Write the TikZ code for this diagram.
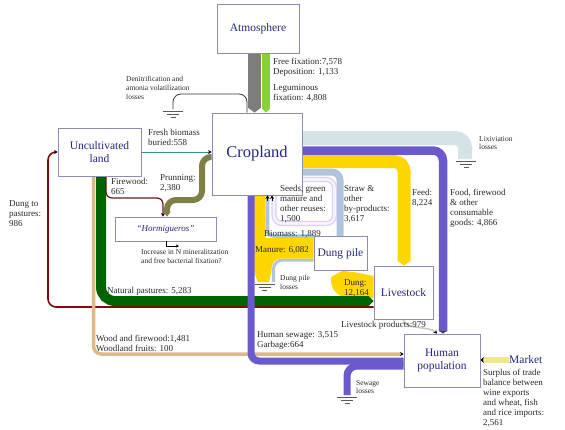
\documentclass[tikz,border=0pt]{standalone}
\usepackage{fontspec}
\setmainfont{Liberation Serif}
\usetikzlibrary{arrows.meta,backgrounds}
\definecolor{nodeblue}{RGB}{38,38,128}
\definecolor{boxcol}{RGB}{140,140,180}
\definecolor{txtcol}{RGB}{40,40,40}
\definecolor{atmgray}{RGB}{125,125,125}
\definecolor{leggreen}{RGB}{132,210,52}
\definecolor{lixcol}{RGB}{214,227,230}
\definecolor{purp}{RGB}{106,90,205}
\definecolor{gold}{RGB}{255,214,0}
\definecolor{strawcol}{RGB}{176,196,222}
\definecolor{lavout}{RGB}{222,205,246}
\definecolor{lavin}{RGB}{246,242,255}
\definecolor{dkgreen}{RGB}{0,100,0}
\definecolor{dkred}{RGB}{128,10,10}
\definecolor{fwcol}{RGB}{100,25,25}
\definecolor{olivecol}{RGB}{128,128,70}
\definecolor{tealcol}{RGB}{50,145,145}
\definecolor{tancol}{RGB}{222,184,135}
\definecolor{khakicol}{RGB}{240,230,140}
\definecolor{lpgray}{RGB}{200,200,200}
\begin{document}
\begin{tikzpicture}[x=1pt,y=-1pt,
  box/.style={draw=boxcol, line width=0.8pt, fill=white, text=nodeblue,
    font=\fontsize{11.5}{12.5}\selectfont, align=center, inner sep=0pt},
  lbl/.style={anchor=north west, inner sep=0pt, align=left, text=txtcol,
    font=\fontsize{9}{10}\selectfont},
  slbl/.style={lbl, font=\fontsize{7.5}{8.8}\selectfont},
  band/.style={rounded corners=10pt},
  thinarrow/.style={-{Stealth[length=3.5pt,width=4pt,color=black]}},
  gnd/.pic={\draw[line width=0.7pt, black!65] (-10,0)--(10,0) (-6,3)--(6,3) (-2.5,6)--(2.5,6);}
]
\useasboundingbox (0,0) rectangle (565,429);

% ---- nodes ----
\node[box, minimum width=82pt, minimum height=49pt] (atm) at (258,28.5) {Atmosphere};
\node[box, minimum width=90pt, minimum height=82pt, font=\fontsize{16.5}{19}\selectfont] (crop) at (257,154) {Cropland};
\node[box, minimum width=83pt, minimum height=48pt] (unc) at (99.5,152) {Uncultivated\\land};
\node[box, minimum width=101pt, minimum height=24pt, font=\fontsize{9}{11}\selectfont\itshape] (horm) at (165.5,229) {``Hormigueros''};
\node[box, minimum width=53pt, minimum height=34pt] (dung) at (340.5,253.5) {Dung pile};
\node[box, minimum width=59pt, minimum height=53pt] (live) at (403.5,292.5) {Livestock};
\node[box, minimum width=76pt, minimum height=53pt] (hum) at (442,360.5) {Human\\population};
\node[text=nodeblue, font=\fontsize{11.5}{13}\selectfont, anchor=west, inner sep=0pt] (mkt) at (509,360) {Market};

% ---- flows ----
\begin{scope}[on background layer]
  % atmosphere -> cropland
  \draw[line width=13pt, atmgray, -{Triangle[length=5pt,width=13pt]}] (atm.south -| 254.5,0) -- (crop.north -| 254.5,0);
  \draw[line width=8pt, leggreen, -{Triangle[length=4pt,width=8pt]}] (atm.south -| 266,0) -- (crop.north -| 266,0);
  % denitrification
  \draw[line width=0.8pt, black!80, rounded corners=8pt] (crop.north -| 247,0) -- (247,94) -- (173,94) -- (173,109);
  % lixiviation
  \draw[band, line width=14pt, lixcol] (crop.east |- 0,138) -- (465,138) -- (465,159);
  % food to human population
  \draw[band, line width=8.5pt, purp, -{Stealth[length=3pt,width=7pt,color=black!80]}] (crop.east |- 0,150.5) -- (443,150.5) -- (hum.north -| 443,0);
  % feed
  \draw[band, line width=13pt, gold, -{Triangle[length=5pt,width=13pt]}] (crop.east |- 0,161.5) -- (404,161.5) -- (live.north -| 404,0);
  % straw
  \draw[rounded corners=8pt, line width=7pt, strawcol] (crop.east |- 0,172) -- (340,172) -- (dung.north -| 340,0);
  % seeds loop
  \draw[rounded corners=8pt, draw=lavout, line width=1.3pt, double=lavin, double distance=2.6pt] (crop.east |- 0,179.5) -- (334.5,179.5) -- (334.5,223.5) -- (274,223.5) -- (crop.south -| 274,0);
  % biomass
  \draw[rounded corners=6pt, line width=3.5pt, strawcol] (dung.west |- 0,236) -- (267.5,236) -- (crop.south -| 267.5,0);
  % dung pile losses (blue part)
  \draw[rounded corners=9pt, line width=3pt, strawcol] (dung.west |- 0,260) -- (273.5,260) -- (273.5,282);
  % manure and dung pile losses (yellow)
  \fill[gold] (crop.south -| 254,0) -- (crop.south -| 265.5,0) -- (265.5,238) -- (dung.west |- 0,238)
     -- (dung.west |- 0,258.5) -- (283,258.5) .. controls (274,258.5) and (271.5,263) .. (271.5,271)
     -- (269,282) -- (258,282) .. controls (255,276) and (254,272) .. (254,266) -- cycle;
  % dung from livestock to dung pile
  \fill[gold] (live.west |- 0,276) -- (354,272) -- (dung.south -| 342,0) -- (331,277)
     .. controls (330,290) and (338,298) .. (352,298) -- (live.west |- 0,298) -- cycle;
  % dung to pastures
  \draw[rounded corners=8pt, line width=1.6pt, dkred, thinarrow] (live.west |- 0,307) -- (48,307) -- (48,152) -- (unc.west);
  % wood and firewood
  \draw[rounded corners=8pt, line width=3.5pt, tancol, thinarrow] (unc.south -| 93.5,0) -- (93.5,354) -- (hum.west |- 0,354);
  % natural pastures
  \draw[rounded corners=14pt, line width=10pt, dkgreen, -{Triangle[length=5pt,width=10pt]}] (unc.south -| 101,0) -- (101,301) -- (live.west |- 0,301);
  % human sewage and garbage
  \draw[rounded corners=8pt, line width=7pt, purp] (hum.west |- 0,361) -- (251,361) -- (crop.south -| 251,0);
  % sewage losses
  \draw[rounded corners=10pt, line width=7pt, purp] (hum.west |- 0,366) -- (347,366) -- (347,395);
  % livestock products
  \draw[line width=1.6pt, lpgray, thinarrow] (live.south -| 403,0) .. controls (405,330) and (430,326) .. (hum.north -| 437,0);
  % market
  \draw[line width=6pt, khakicol, -{Stealth[length=3.5pt,width=6pt,color=black]}] (mkt.west) -- (hum.east |- mkt.west);
  % fresh biomass buried
  \draw[line width=1pt, tealcol, thinarrow] (unc.east) -- (crop.west |- unc.east);
  % firewood
  \draw[rounded corners=6pt, line width=1.2pt, fwcol, thinarrow] (unc.south -| 106,0) -- (106,198) -- (163,198) -- (horm.north -| 163,0);
  % prunning
  \draw[rounded corners=9pt, line width=6pt, olivecol, -{Triangle[length=4pt,width=6pt]}] (crop.west |- 0,157) -- (202,157) -- (202,200) -- (167,200) -- (horm.north -| 167,0);
\end{scope}

% small black arrowheads into cropland
\draw[thinarrow, line width=0.6pt] (267.5,201) -- (crop.south -| 267.5,0);
\draw[thinarrow, line width=0.6pt] (272,201) -- (crop.south -| 272,0);
% hormigueros output
\draw[line width=0.6pt, -{Stealth[length=3pt,width=3pt]}] (horm.south -| 166,0) -- (166,246) -- (179,246);

% ground symbols
\pic at (173,111) {gnd};
\pic at (466,161) {gnd};
\pic at (264.5,284) {gnd};
\pic at (347,397) {gnd};

% ---- labels ----
\node[lbl] (l1) at (273,58) {Free fixation:7,578\\Deposition: 1,133};
\node[lbl] (l2) at (273,84) {Leguminous\\fixation: 4,808};
\node[slbl] (l3) at (126,76) {Denitrification and\\amonia volatilization\\losses};
\node[lbl] (l4) at (148,129) {Fresh biomass\\buried:558};
\node[lbl] (l5) at (111,178) {Firewood:\\665};
\node[lbl] (l6) at (160,174) {Prunning:\\2,380};
\node[lbl] (l7) at (9,200) {Dung to\\pastures:\\986};
\node[lbl] (l8) at (107,287) {Natural pastures: 5,283};
\node[lbl] (l9) at (96,335) {Wood and firewood:1,481\\Woodland fruits: 100};
\node[lbl] (l10) at (257,331) {Human sewage: 3,515\\Garbage:664};
\node[lbl] (l11) at (341,321) {Livestock products:979};
\node[slbl] (l12) at (356,380) {Sewage\\losses};
\node[slbl] (l13) at (280,275) {Dung pile\\losses};
\node[lbl] (l14) at (264,230) {Biomass: 1,889};
\node[lbl] (l15) at (255,246) {Manure: 6,082};
\node[lbl] (l16) at (280,185) {Seeds, green\\manure and\\other reuses:\\1,500};
\node[lbl] (l17) at (344,185) {Straw \&\\other\\by-products:\\3,617};
\node[lbl] (l18) at (412,189) {Feed:\\8,224};
\node[lbl] (l19) at (450,189) {Food, firewood\\\& other\\consumable\\goods: 4,866};
\node[slbl] (l20) at (479,136) {Lixiviation\\losses};
\node[lbl] (l21) at (344,279) {Dung:\\12,164};
\node[lbl] (l22) at (483,369) {Surplus of trade\\balance between\\wine exports\\and wheat, fish\\and rice imports:\\2,561};
\node[slbl] (l23) at (141,249) {Increase in N mineralitzation\\and free bacterial fixation?};
\end{tikzpicture}
\end{document}
